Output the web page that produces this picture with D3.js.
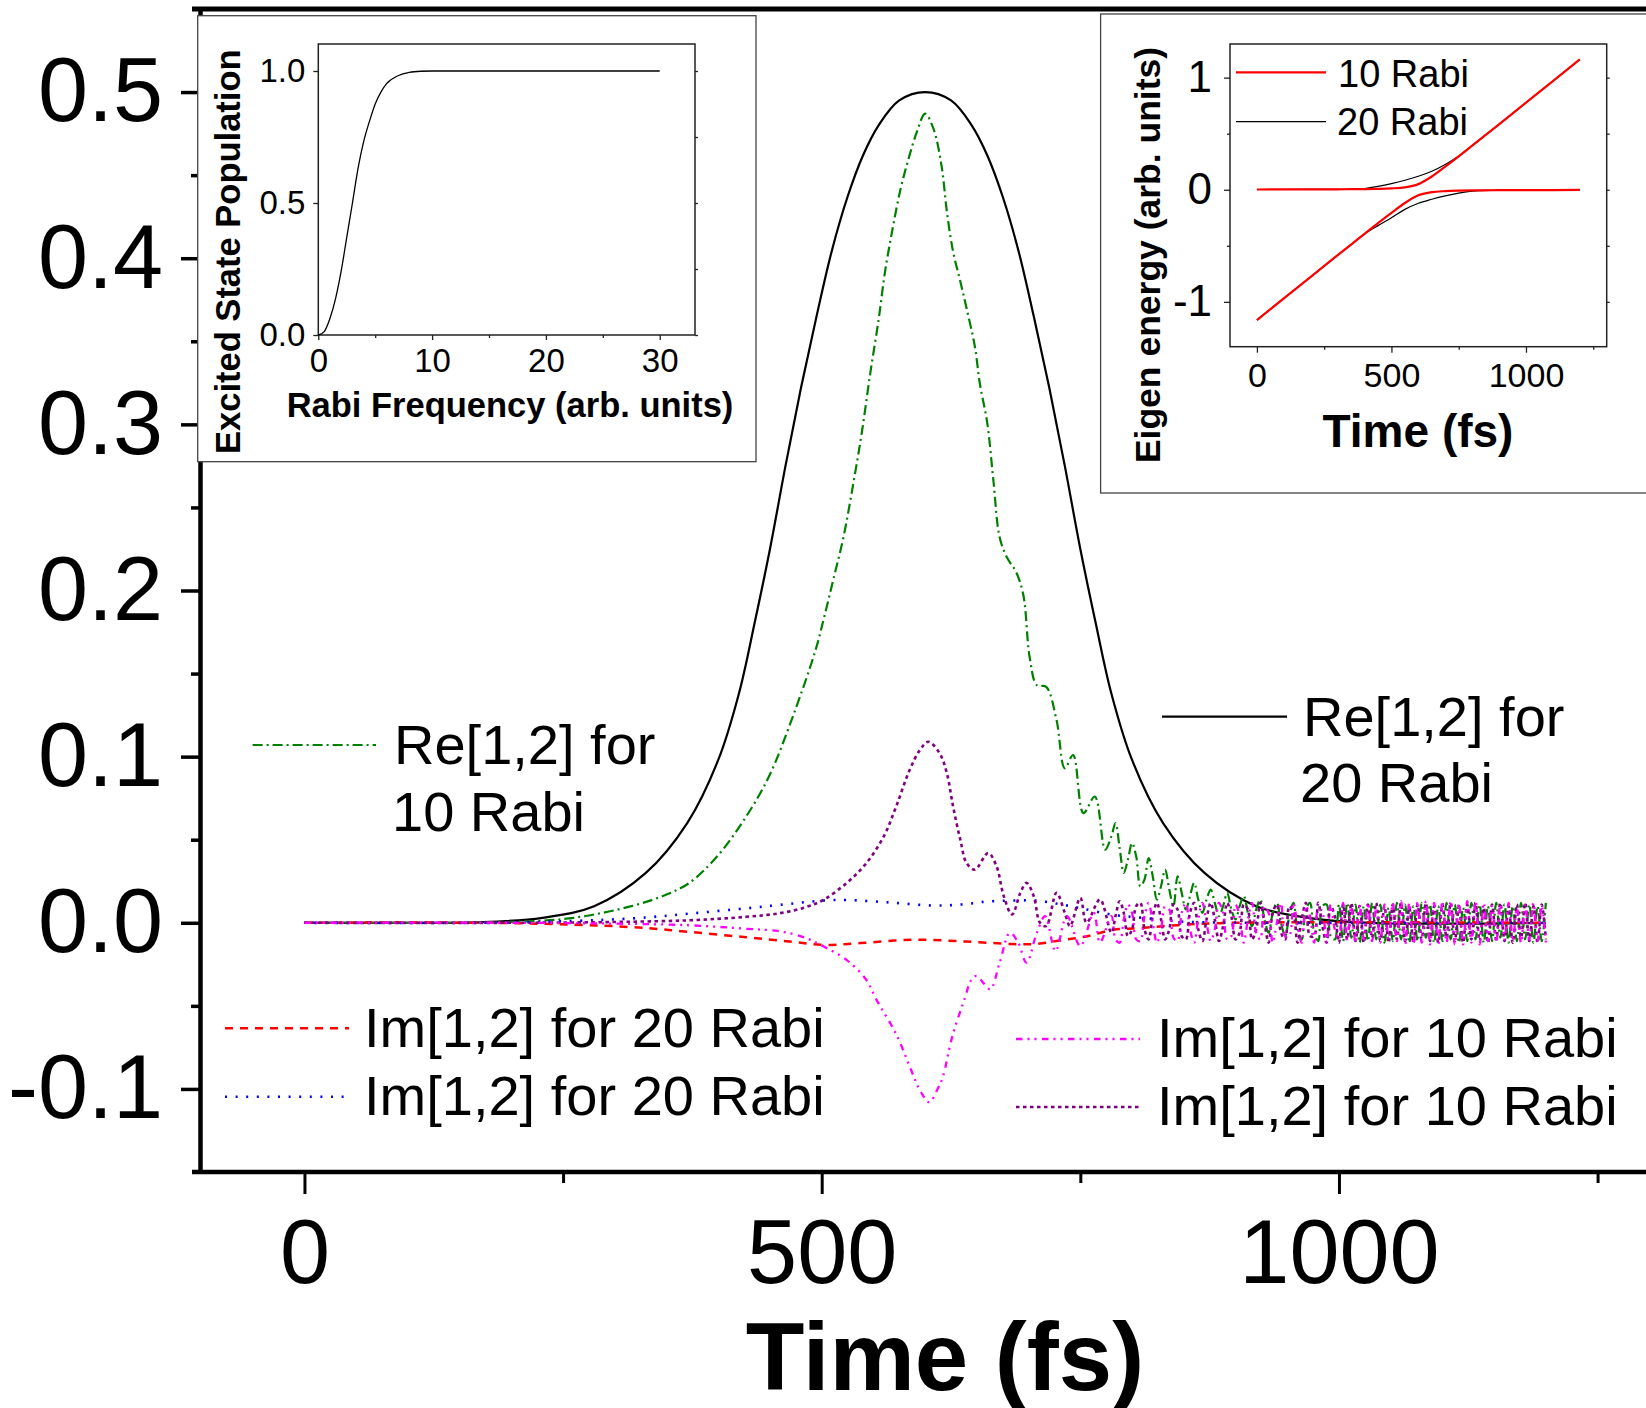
<!DOCTYPE html>
<html><head><meta charset="utf-8">
<script src="https://cdn.jsdelivr.net/npm/d3@7"></script>
<style>
html,body{margin:0;padding:0;background:#fff;}
svg{display:block;}
</style></head><body>
<svg id="chart" width="1646" height="1408"></svg>
<script>
// ---------------- DATA ----------------
// Main plot: time (fs) vs density-matrix element
const xTickValues = [0, 500, 1000];
const xTickLabels = ["0", "500", "1000"];
const xMinorTicks = [250, 750, 1250];
const yTickValues = [-0.1, 0, 0.1, 0.2, 0.3, 0.4, 0.5];
const yTickLabels = ["-0.1", "0.0", "0.1", "0.2", "0.3", "0.4", "0.5"];
const yMinorTicks = [-0.05, 0.05, 0.15, 0.25, 0.35, 0.45];

// Re[1,2] for 20 Rabi  [time, value]
const re20Rabi = [[0,0],[100,0],[170,0.0003],[230,0.003],[280,0.01],[330,0.03],[370,0.06],[400,0.098],[420,0.138],[435,0.18],[450,0.225],[465,0.275],[480,0.322],[495,0.365],[510,0.405],[525,0.437],[540,0.462],[555,0.48],[575,0.495],[600,0.5],[625,0.495],[645,0.48],[660,0.462],[675,0.437],[690,0.405],[705,0.365],[720,0.322],[735,0.275],[750,0.225],[765,0.18],[780,0.138],[800,0.098],[830,0.06],[870,0.03],[920,0.01],[970,0.003],[1030,0],[1200,0]];

// Re[1,2] for 10 Rabi (smooth part, then fast oscillating tail)
const re10RabiEarly = [[0,0],[100,0],[200,0.0005],[260,0.003],[316,0.01],[350,0.017],[372,0.024],[399,0.04],[427,0.064],[449,0.088],[472,0.124],[494,0.164],[502,0.183],[511,0.206],[521,0.232],[531,0.266],[539,0.296],[547,0.331],[555,0.363],[561,0.391],[568,0.416],[576,0.441],[584,0.46],[592,0.476],[600,0.487],[608,0.478],[616,0.455],[621,0.428],[627,0.404],[634,0.386],[640,0.37],[648,0.347],[653,0.324],[660,0.301],[666,0.266],[672,0.232],[679,0.22],[688,0.211],[695,0.197],[701,0.16],[708,0.143],[717,0.142],[727,0.122],[735,0.093],[743,0.101],[753,0.066],[764,0.076],[774,0.044]];

// Im[1,2] for 20 Rabi (red dashed, blue dotted)
const im20RabiRed = [[0,0],[200,-0.0002],[316,-0.0026],[372,-0.0055],[427,-0.0087],[469,-0.0113],[502,-0.0133],[537,-0.0122],[589,-0.0102],[640,-0.0113],[685,-0.0128],[708,-0.0127],[734,-0.0102],[756,-0.0082],[782,-0.0042],[808,-0.0032],[849,-0.0012],[898,0],[1200,0]];
const im20RabiBlue = [[0,0],[200,0.0002],[316,0.0026],[372,0.0055],[427,0.0087],[460,0.0108],[502,0.0134],[524,0.0137],[566,0.0122],[608,0.0104],[635,0.011],[660,0.0128],[685,0.0134],[708,0.0133],[730,0.0112],[750,0.0088],[782,0.0048],[814,0.0028],[846,0.0008],[880,0.0002],[950,0],[1200,0]];

// Im[1,2] for 10 Rabi (magenta dash-dot-dot, purple short dot)
const im10RabiMagentaEarly = [[0,0],[200,0],[300,-0.0005],[372,-0.0015],[427,-0.0036],[460,-0.0052],[485,-0.0092],[502,-0.0143],[524,-0.0223],[543,-0.0343],[553,-0.0464],[572,-0.067],[586,-0.088],[596,-0.102],[604,-0.108],[612,-0.1],[617,-0.093],[626,-0.069],[638,-0.046],[645,-0.034],[650,-0.032],[656,-0.036],[663,-0.04],[672,-0.024],[682,-0.006],[690,-0.012],[698,-0.024],[708,-0.006],[716,0.004],[726,-0.017],[737,0.004],[750,-0.014],[763,0.006],[769,-0.012]];
const im10RabiPurpleEarly = [[0,0],[200,0],[300,0.0005],[372,0.0015],[427,0.0036],[460,0.0058],[485,0.0095],[502,0.0139],[524,0.0239],[543,0.0358],[560,0.052],[572,0.07],[585,0.092],[595,0.104],[603,0.109],[614,0.102],[621,0.09],[627,0.07],[634,0.05],[640,0.036],[648,0.032],[661,0.042],[669,0.034],[676,0.016],[684,0.005],[692,0.018],[698,0.024],[705,0.016],[711,0],[717,-0.002],[727,0.018],[735,0.006],[740,-0.002],[750,0.015],[756,0],[769,0.014]];

// Oscillating tails, sampled every 4 fs from 780 fs to 1200 fs
const tailStart = 780, tailStep = 4;
const re10RabiTail = [0.052,0.06,0.045,0.03,0.038,0.048,0.04,0.022,0.026,0.039,
 0.028,0.014,0.022,0.032,0.02,0.01,0.028,0.018,0.008,0.016,
 0.024,0.014,0.006,0.014,0.02,0.012,0.004,0.01,0.018,0.008,
 0.002,0.01,0.016,0.006,-0.002,0.008,0.014,0.002,-0.006,0.006,
 0.012,0.0,-0.008,0.004,0.012,-0.004,-0.01,0.008,0.012,-0.006,
 -0.011,0.01,0.011,-0.008,-0.01,0.011,
 -0.011,0.012,-0.009,0.011,-0.012,0.01,-0.011,0.012,-0.01,0.011,
 -0.012,0.009,-0.011,0.012,-0.01,0.011,-0.012,0.01,-0.011,0.012,
 -0.009,0.011,-0.012,0.01,-0.011,0.012,-0.01,0.011,-0.012,0.009,
 -0.011,0.012,-0.01,0.011,-0.012,0.01,-0.011,0.012,-0.009,0.011,
 -0.012,0.01,-0.011,0.012,-0.01,0.011,-0.012,0.01,-0.011,0.012];
const im10RabiPurpleTail = [-0.006,0.004,0.013,0.006,-0.008,-0.004,0.01,0.012,-0.004,-0.01,
 0.004,0.012,0.002,-0.01,-0.004,0.011,0.008,-0.008,-0.01,0.006,
 0.012,-0.004,-0.011,0.002,0.012,0.002,-0.011,-0.002,0.012,0.004,
 -0.01,-0.006,0.011,0.008,-0.01,-0.004,0.012,0.0,-0.012,0.006,
 0.011,-0.006,-0.01,0.01,0.006,-0.012,0.002,0.012,-0.008,-0.008,
 0.012,-0.002,-0.012,0.01,0.004,-0.012,
 0.011,-0.01,0.012,-0.011,0.01,-0.012,0.011,-0.009,0.012,-0.011,
 0.01,-0.012,0.011,-0.01,0.012,-0.011,0.009,-0.012,0.011,-0.01,
 0.012,-0.011,0.01,-0.012,0.011,-0.009,0.012,-0.011,0.01,-0.012,
 0.011,-0.01,0.012,-0.011,0.009,-0.012,0.011,-0.01,0.012,-0.011,
 0.01,-0.012,0.011,-0.009,0.012,-0.011,0.01,-0.012,0.011,-0.01];
const im10RabiMagentaTail = [0.004,-0.01,-0.012,0.002,0.011,0.006,-0.01,-0.011,0.004,0.012,
 0.0,-0.012,-0.004,0.01,0.008,-0.009,-0.011,0.006,0.012,-0.004,
 -0.012,0.002,0.012,0.0,-0.011,-0.004,0.012,0.006,-0.01,-0.008,
 0.011,0.004,-0.012,0.002,0.012,-0.006,-0.01,0.01,0.006,-0.012,
 0.0,0.012,-0.008,-0.008,0.012,-0.002,-0.012,0.01,0.004,-0.012,
 0.008,0.006,-0.012,0.011,-0.004,-0.01,
 0.012,-0.011,0.01,-0.012,0.011,-0.01,0.012,-0.011,0.009,-0.012,
 0.011,-0.01,0.012,-0.011,0.013,-0.013,0.012,-0.013,0.013,-0.012,
 0.013,-0.013,0.012,-0.013,0.013,-0.012,0.013,-0.013,0.012,-0.013,
 0.013,-0.012,0.013,-0.013,0.012,-0.011,0.01,-0.012,0.011,-0.01,
 0.012,-0.011,0.009,-0.012,0.011,-0.01,0.012,-0.011,0.01,-0.012];

// Inset 1: excited state population vs Rabi frequency
const rabiFreq   = [0,0.5,1,1.5,2,2.5,3,3.5,4,4.5,5,5.5,6,7,8,9,10,15,20,25,30];
const excitedPop = [0,0.012,0.06,0.135,0.24,0.37,0.5,0.633,0.735,0.81,0.875,0.92,0.952,0.982,0.995,0.999,1,1,1,1,1];
const inset1XTicks = [0,10,20,30];
const inset1YTicks = [0,0.5,1.0];
const inset1YLabels = ["0.0","0.5","1.0"];

// Inset 2: eigen energies vs time
const eigTime = [0,100,200,300,350,400,450,500,550,600,650,700,750,800,850,900,1000,1100,1200];
const eig10Upper = [0.002,0.003,0.003,0.004,0.005,0.006,0.008,0.012,0.021,0.05,0.118,0.206,0.298,0.393,0.489,0.584,0.777,0.969,1.162];
const eig10Lower = [-1.162,-0.969,-0.777,-0.584,-0.489,-0.393,-0.298,-0.206,-0.118,-0.05,-0.021,-0.012,-0.008,-0.006,-0.005,-0.004,-0.003,-0.003,-0.002];
const eig20Upper = [0.002,0.002,0.003,0.004,0.005,0.01,0.03,0.055,0.085,0.12,0.165,0.225,0.3,0.395,0.489,0.584,0.777,0.969,1.162];
const eig20Lower = [-1.162,-0.969,-0.777,-0.584,-0.489,-0.395,-0.32,-0.25,-0.175,-0.12,-0.085,-0.055,-0.03,-0.012,-0.005,-0.004,-0.003,-0.003,-0.002];
const inset2XTicks = [0,500,1000];
const inset2YTicks = [-1,0,1];

// ---------------- DRAWING ----------------
const FONT = '"Liberation Sans", Arial, Helvetica, sans-serif';
const svg = d3.select("#chart");
svg.append("rect").attr("width",1646).attr("height",1408).attr("fill","#fff");

const withTail = (early, tail) => early.concat(tail.map((v,i)=>[tailStart + tailStep*i, v]));

const x = d3.scaleLinear().domain([-100,1300]).range([201,1649.3]);
const y = d3.scaleLinear().domain([-0.15,0.55]).range([1172,9]);
const line = d3.line().x(d=>x(d[0])).y(d=>y(d[1])).curve(d3.curveCatmullRom.alpha(0.5));

const styles = {
  black:   {stroke:"#000000", width:2.2, dash:null},
  green:   {stroke:"#008000", width:2.2, dash:"10,4,2,4"},
  red:     {stroke:"#ff0000", width:2.5, dash:"8,7"},
  blue:    {stroke:"#0000ff", width:2.6, dash:"2,8.6"},
  purple:  {stroke:"#800080", width:2.6, dash:"3.5,3.5"},
  magenta: {stroke:"#ff00ff", width:2.3, dash:"6.5,5,2,5,2,5.5"}
};
function styled(sel, st){
  sel.attr("fill","none").attr("stroke",st.stroke).attr("stroke-width",st.width);
  if(st.dash) sel.attr("stroke-dasharray",st.dash);
  return sel;
}

const series = [
  {data: re20Rabi, st: styles.black},
  {data: withTail(re10RabiEarly, re10RabiTail), st: styles.green},
  {data: im20RabiRed, st: styles.red},
  {data: im20RabiBlue, st: styles.blue},
  {data: withTail(im10RabiPurpleEarly, im10RabiPurpleTail), st: styles.purple},
  {data: withTail(im10RabiMagentaEarly, im10RabiMagentaTail), st: styles.magenta}
];
const gLines = svg.append("g");
series.forEach(s => styled(gLines.append("path").datum(s.data).attr("d", line), s.st));

// Main axes
function styleAxis(g, fontSize, tickW){
  g.attr("font-family", FONT);
  g.selectAll(".tick line").attr("stroke","#000").attr("stroke-width",tickW);
  g.selectAll(".tick text").attr("font-size",fontSize).attr("font-family",FONT).attr("fill","#000");
  g.select(".domain").remove();
}
const gY = svg.append("g").attr("transform","translate(201,0)")
  .call(d3.axisLeft(y).tickValues(yTickValues).tickSize(20).tickSizeOuter(0).tickPadding(18)
        .tickFormat((d,i)=>yTickLabels[i]));
styleAxis(gY, 90, 3.5);
const gYm = svg.append("g").attr("transform","translate(201,0)")
  .call(d3.axisLeft(y).tickValues(yMinorTicks).tickSize(10).tickSizeOuter(0).tickFormat(""));
styleAxis(gYm, 10, 3.5);

const gX = svg.append("g").attr("transform","translate(0,1172)")
  .call(d3.axisBottom(x).tickValues(xTickValues).tickSize(22).tickSizeOuter(0).tickPadding(25)
        .tickFormat((d,i)=>xTickLabels[i]));
styleAxis(gX, 90, 3);
const gXm = svg.append("g").attr("transform","translate(0,1172)")
  .call(d3.axisBottom(x).tickValues(xMinorTicks).tickSize(11).tickSizeOuter(0).tickFormat(""));
styleAxis(gXm, 10, 3);

// frame lines
svg.append("line").attr("x1",200.5).attr("x2",200.5).attr("y1",7).attr("y2",1174).attr("stroke","#000").attr("stroke-width",4.5);
svg.append("line").attr("x1",192).attr("x2",1646).attr("y1",9).attr("y2",9).attr("stroke","#000").attr("stroke-width",5);
svg.append("line").attr("x1",192).attr("x2",1646).attr("y1",1172).attr("y2",1172).attr("stroke","#000").attr("stroke-width",4.5);

svg.append("text").attr("x",945).attr("y",1390).attr("text-anchor","middle")
  .attr("font-family",FONT).attr("font-weight","bold").attr("font-size",96).text("Time (fs)");

// Main legends
function legendLine(x1,x2,yy,st){
  styled(svg.append("line").attr("x1",x1).attr("x2",x2).attr("y1",yy).attr("y2",yy), st);
}
function label(xx,yy,str,size,opts={}){
  const t = svg.append("text").attr("x",xx).attr("y",yy).attr("font-family",FONT)
    .attr("font-size",size).attr("fill","#000").text(str);
  if(opts.bold) t.attr("font-weight","bold");
  if(opts.anchor) t.attr("text-anchor",opts.anchor);
  return t;
}
const LF = 56;
legendLine(252.6,376,745,styles.green);
label(394,764,"Re[1,2] for",LF); label(392,831,"10 Rabi",LF);
legendLine(1162,1287,716.7,styles.black);
label(1303,736,"Re[1,2] for",LF); label(1300,802,"20 Rabi",LF);
legendLine(225,349,1028.3,styles.red);
label(364,1047,"Im[1,2] for 20 Rabi",LF);
legendLine(225,345,1096.7,styles.blue);
label(364,1115,"Im[1,2] for 20 Rabi",LF);
legendLine(1016,1140,1039,styles.magenta);
label(1157,1057,"Im[1,2] for 10 Rabi",LF);
legendLine(1016,1140,1107,styles.purple);
label(1157,1125,"Im[1,2] for 10 Rabi",LF);

// ---------------- Inset 1 ----------------
const in1 = svg.append("g");
in1.append("rect").attr("x",197.7).attr("y",15.7).attr("width",558.3).attr("height",446)
  .attr("fill","#fff").attr("stroke","#444").attr("stroke-width",1.3);
const x1 = d3.scaleLinear().domain([0,33.1]).range([318.3,695]);
const y1 = d3.scaleLinear().domain([0,1.1]).range([335,44.6]);
in1.append("rect").attr("x",318.3).attr("y",44).attr("width",695-318.3).attr("height",291)
  .attr("fill","none").attr("stroke","#222").attr("stroke-width",1.5);
function styleInsetAxis(g, fontSize){
  g.attr("font-family",FONT);
  g.selectAll(".tick line").attr("stroke","#222").attr("stroke-width",1.3);
  g.selectAll(".tick text").attr("font-size",fontSize).attr("font-family",FONT).attr("fill","#000");
  g.select(".domain").remove();
}
styleInsetAxis(in1.append("g").attr("transform","translate(0,335)")
  .call(d3.axisBottom(x1).tickValues(inset1XTicks).tickSize(5).tickSizeOuter(0).tickPadding(9).tickFormat(d=>String(d))), 33);
styleInsetAxis(in1.append("g").attr("transform","translate(0,335)")
  .call(d3.axisBottom(x1).tickValues([5,15,25]).tickSize(3).tickSizeOuter(0).tickFormat("")), 10);
styleInsetAxis(in1.append("g").attr("transform","translate(318.3,0)")
  .call(d3.axisLeft(y1).tickValues(inset1YTicks).tickSize(5).tickSizeOuter(0).tickPadding(8).tickFormat((d,i)=>inset1YLabels[i])), 33);
styleInsetAxis(in1.append("g").attr("transform","translate(695,0)")
  .call(d3.axisRight(y1).tickValues([0,0.25,0.5,0.75,1.0]).tickSize(3).tickSizeOuter(0).tickFormat("")), 10);
in1.append("path").datum(rabiFreq.map((r,i)=>[r, excitedPop[i]]))
  .attr("d", d3.line().x(d=>x1(d[0])).y(d=>y1(d[1])).curve(d3.curveMonotoneX))
  .attr("fill","none").attr("stroke","#000").attr("stroke-width",1.3);
in1.append("text").attr("x",510).attr("y",416.7).attr("text-anchor","middle").attr("font-family",FONT)
  .attr("font-weight","bold").attr("font-size",34.5).text("Rabi Frequency (arb. units)");
in1.append("text").attr("transform","translate(240,251.7) rotate(-90)").attr("text-anchor","middle")
  .attr("font-family",FONT).attr("font-weight","bold").attr("font-size",34.5).text("Excited State Population");

// ---------------- Inset 2 ----------------
const in2 = svg.append("g");
in2.append("rect").attr("x",1100.6).attr("y",14).attr("width",600).attr("height",479)
  .attr("fill","#fff").attr("stroke","#444").attr("stroke-width",1.3);
const x2 = d3.scaleLinear().domain([-100,1300]).range([1230,1606.7]);
const y2 = d3.scaleLinear().domain([-1.4,1.3]).range([346.7,44]);
in2.append("rect").attr("x",1230).attr("y",44).attr("width",1606.7-1230).attr("height",346.7-44)
  .attr("fill","none").attr("stroke","#222").attr("stroke-width",1.5);
styleInsetAxis(in2.append("g").attr("transform","translate(0,346.7)")
  .call(d3.axisBottom(x2).tickValues(inset2XTicks).tickSize(6).tickSizeOuter(0).tickPadding(10).tickFormat(d=>String(d))), 34);
styleInsetAxis(in2.append("g").attr("transform","translate(0,346.7)")
  .call(d3.axisBottom(x2).tickValues([250,750,1250]).tickSize(3).tickSizeOuter(0).tickFormat("")), 10);
styleInsetAxis(in2.append("g").attr("transform","translate(1230,0)")
  .call(d3.axisLeft(y2).tickValues(inset2YTicks).tickSize(6).tickSizeOuter(0).tickPadding(12).tickFormat(d=>String(d))), 44);
styleInsetAxis(in2.append("g").attr("transform","translate(1230,0)")
  .call(d3.axisLeft(y2).tickValues([-0.5,0.5]).tickSize(3).tickSizeOuter(0).tickFormat("")), 10);
styleInsetAxis(in2.append("g").attr("transform","translate(1606.7,0)")
  .call(d3.axisRight(y2).tickValues([-1,-0.5,0,0.5,1]).tickSize(3).tickSizeOuter(0).tickFormat("")), 10);
const line2 = d3.line().x(d=>x2(d[0])).y(d=>y2(d[1])).curve(d3.curveMonotoneX);
[eig20Upper, eig20Lower].forEach(arr => in2.append("path").datum(eigTime.map((t,i)=>[t,arr[i]]))
  .attr("d",line2).attr("fill","none").attr("stroke","#000").attr("stroke-width",1.2));
[eig10Upper, eig10Lower].forEach(arr => in2.append("path").datum(eigTime.map((t,i)=>[t,arr[i]]))
  .attr("d",line2).attr("fill","none").attr("stroke","#ff0000").attr("stroke-width",2.2));
in2.append("line").attr("x1",1236).attr("x2",1326).attr("y1",72.3).attr("y2",72.3).attr("stroke","#ff0000").attr("stroke-width",2.2);
in2.append("line").attr("x1",1236).attr("x2",1326).attr("y1",121.7).attr("y2",121.7).attr("stroke","#000").attr("stroke-width",1.2);
in2.append("text").attr("x",1338).attr("y",86.7).attr("font-family",FONT).attr("font-size",38).text("10 Rabi");
in2.append("text").attr("x",1337).attr("y",135).attr("font-family",FONT).attr("font-size",38).text("20 Rabi");
in2.append("text").attr("x",1418).attr("y",447).attr("text-anchor","middle").attr("font-family",FONT)
  .attr("font-weight","bold").attr("font-size",46).text("Time (fs)");
in2.append("text").attr("transform","translate(1160,255) rotate(-90)").attr("text-anchor","middle")
  .attr("font-family",FONT).attr("font-weight","bold").attr("font-size",35.5).text("Eigen energy (arb. units)");
</script>
</body></html>
